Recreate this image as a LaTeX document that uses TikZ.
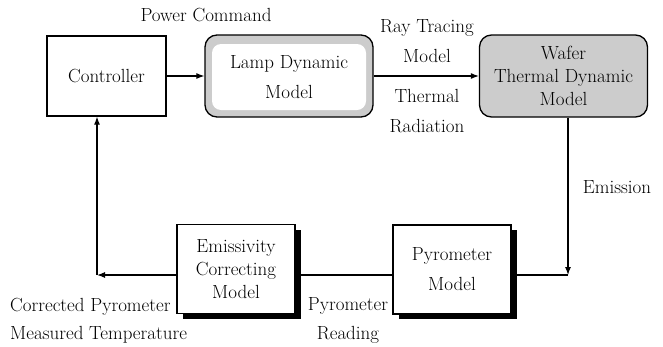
\documentclass[tikz,border=0pt]{standalone}
\usetikzlibrary{arrows.meta,shadows,calc}
\begin{document}
\begin{tikzpicture}[x=1pt,y=-1pt,
  every node/.style={font=\fontsize{19}{30}\selectfont, inner sep=0pt},
  tight/.style={font=\fontsize{19}{23}\selectfont, align=center},
  loose/.style={font=\fontsize{19}{30}\selectfont, align=center},
  plainbox/.style={draw, line width=1.3pt, minimum width=119pt, minimum height=80pt, align=center},
  shadowbox/.style={draw, fill=white, line width=1.3pt, minimum width=118pt, minimum height=89pt,
     drop shadow={shadow xshift=6pt, shadow yshift=-5pt, fill=black, opacity=1}},
  graybox/.style={draw, line width=1.3pt, rounded corners=12pt, fill=black!20, minimum width=168pt, minimum height=82pt},
  innerbox/.style={fill=white, rounded corners=9pt, minimum width=154pt, minimum height=66pt},
  conn/.style={line width=1.1pt},
  arr/.style={conn, -{Latex[length=8pt,width=6pt]}}
]
\useasboundingbox (0,0) rectangle (663,346);

% blocks
\node[plainbox] (ctrl) at (106.5,76) {Controller};
\node[graybox] (lamp) at (289,76) {};
\node[innerbox, loose] (lampin) at (289,77) {Lamp Dynamic\\Model};
\node[graybox, tight] (wafer) at (563.5,76) {Wafer\\Thermal Dynamic\\Model};
\node[shadowbox, tight] (emis) at (236,269) {Emissivity\\Correcting\\Model};
\node[shadowbox, loose] (pyro) at (452,269.5) {Pyrometer\\Model};

% labels
\node (lpower) at (206,15) {Power Command};
\node[loose] (lray) at (427,41.5) {Ray Tracing\\Model};
\node[loose] (ltherm) at (427,111.5) {Thermal\\Radiation};
\node (lemis) at (617,187) {Emission};
\node[align=left, font=\fontsize{19}{28}\selectfont, anchor=west] (lcorr) at (10,321) {Corrected Pyrometer\\Measured Temperature};
\node[align=center, font=\fontsize{19}{29}\selectfont] (lread) at (348,320.5) {Pyrometer\\Reading};

% connector points
\coordinate (ej) at (568,275);
\coordinate (fb) at (97,275);

% connectors
\draw[arr] (ctrl.east) -- (lamp.west);
\draw[arr] (lamp.east) -- (wafer.west);
\draw[arr] (wafer.south -| ej) -- (ej);
\draw[conn] (ej) -- (pyro.east |- ej);
\draw[conn] (pyro.west |- ej) -- (emis.east |- ej);
\draw[arr] (emis.west |- ej) -- (fb);
\draw[arr] (fb) -- (ctrl.south -| fb);
\end{tikzpicture}
\end{document}
